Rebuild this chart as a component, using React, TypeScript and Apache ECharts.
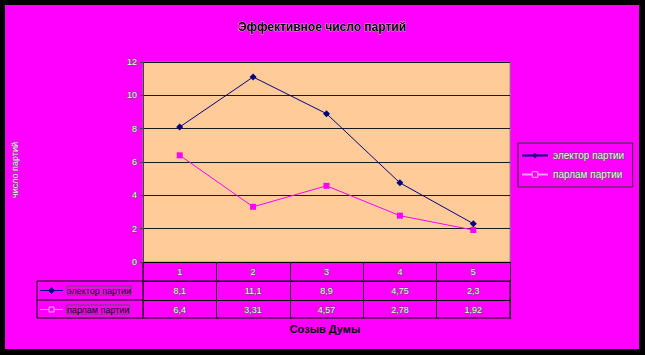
import React, { useEffect, useRef } from "react";
import * as echarts from "echarts";

const title = "Эффективное число партий";
const xTitle = "Созыв Думы";
const yTitle = "число партий";
const categories = ["1", "2", "3", "4", "5"];
const seriesNames = ["электор партии", "парлам партии"];
const electoral = [8.1, 11.1, 8.9, 4.75, 2.3];
const parliamentary = [6.4, 3.31, 4.57, 2.78, 1.92];
const yMin = 0;
const yMax = 12;
const yStep = 2;

const fmt = (v: number) => String(v).replace(".", ",");

const FONT = "Liberation Sans, Arial, sans-serif";
const light = {
  color: "#f4f4f4",
  textBorderColor: "#555",
  textBorderWidth: 1,
  fontSize: 9,
  fontFamily: FONT,
};

export default function App() {
  const ref = useRef<HTMLDivElement>(null);
  useEffect(() => {
    document.body.style.margin = "0";
    const chart = echarts.init(ref.current!, null, { renderer: "svg" });
    const gridLeft = 138;
    const gridTop = 57;
    const gridW = 367;
    const gridH = 200;
    const rowH = 19;
    const tableBottom = gridTop + gridH + rowH * 3 - 1;
    const tableAxis = (data: string[], offset: number, showLine: boolean) => ({
      type: "category",
      data,
      position: "bottom",
      offset,
      boundaryGap: true,
      axisLine: { show: showLine, lineStyle: { color: "#000", width: 1 } },
      axisTick: {
        show: true,
        length: rowH,
        interval: 0,
        lineStyle: { color: "#222", width: 1 },
      },
      axisLabel: { ...light, interval: 0, margin: 5 },
      splitLine: { show: false },
    });
    chart.setOption({
      animation: false,
      backgroundColor: "transparent",
      title: {
        text: title,
        left: "center",
        top: 11,
        textStyle: {
          fontSize: 12,
          fontWeight: "bold",
          color: "#000",
          fontFamily: FONT,
          textBorderColor: "#fff",
          textBorderWidth: 0.6,
        },
      },
      grid: {
        left: gridLeft,
        top: gridTop,
        width: gridW,
        height: gridH,
        show: true,
        backgroundColor: "#FFCC99",
        borderColor: "#888",
        borderWidth: 1,
      },
      legend: {
        orient: "vertical",
        left: 513,
        top: 138,
        padding: [7, 8, 7, 3],
        itemGap: 8,
        itemWidth: 26,
        itemHeight: 7,
        borderColor: "#333",
        borderWidth: 1,
        backgroundColor: "#FF00FF",
        textStyle: { ...light, fontSize: 10 },
        data: [
          { name: seriesNames[0] },
          {
            name: seriesNames[1],
            lineStyle: { color: "#FF99FF" },
            itemStyle: { color: "#FF00FF", borderColor: "#FFB0FF", borderWidth: 1 },
          },
        ],
      },
      xAxis: [
        tableAxis(categories, 0, true),
        tableAxis(electoral.map(fmt), rowH, true),
        tableAxis(parliamentary.map(fmt), rowH * 2, true),
      ],
      yAxis: {
        type: "value",
        min: yMin,
        max: yMax,
        interval: yStep,
        axisLine: { show: true, lineStyle: { color: "#444", width: 1 } },
        axisTick: { show: true, length: 3, lineStyle: { color: "#444" } },
        axisLabel: { ...light, fontSize: 9, margin: 6 },
        splitLine: { show: true, lineStyle: { color: "#1a1a1a", width: 1 } },
      },
      series: [
        {
          name: seriesNames[0],
          type: "line",
          xAxisIndex: 0,
          data: electoral,
          symbol: "diamond",
          symbolSize: 7,
          color: "#000080",
          lineStyle: { color: "#000080", width: 1 },
          itemStyle: { color: "#000080" },
        },
        {
          name: seriesNames[1],
          type: "line",
          xAxisIndex: 0,
          data: parliamentary,
          symbol: "rect",
          symbolSize: 6,
          color: "#FF00FF",
          lineStyle: { color: "#FF00FF", width: 1 },
          itemStyle: { color: "#FF00FF" },
        },
      ],
      graphic: [
        {
          type: "rect",
          shape: { x: 32, y: gridTop + gridH + rowH, width: gridLeft + gridW - 32, height: rowH * 2 - 1 },
          style: { fill: "none", stroke: "#000", lineWidth: 1 },
        },
        {
          type: "line",
          shape: { x1: 32, y1: gridTop + gridH + rowH * 2, x2: gridLeft, y2: gridTop + gridH + rowH * 2 },
          style: { stroke: "#000", lineWidth: 1 },
        },
        {
          type: "line",
          shape: { x1: gridLeft, y1: gridTop + gridH, x2: gridLeft, y2: tableBottom },
          style: { stroke: "#000", lineWidth: 1 },
        },
        {
          type: "line",
          shape: { x1: 35, y1: 285.5, x2: 58, y2: 285.5 },
          style: { stroke: "#000080", lineWidth: 1 },
        },
        {
          type: "polygon",
          shape: { points: [[46.5, 282], [50, 285.5], [46.5, 289], [43, 285.5]] },
          style: { fill: "#000080" },
        },
        {
          type: "text",
          x: 62,
          y: 285.5,
          style: { text: seriesNames[0], ...light, textVerticalAlign: "middle", verticalAlign: "middle" },
        },
        {
          type: "line",
          shape: { x1: 35, y1: 304.5, x2: 58, y2: 304.5 },
          style: { stroke: "#FF99FF", lineWidth: 1 },
        },
        {
          type: "rect",
          shape: { x: 44, y: 302, width: 5, height: 5 },
          style: { fill: "#FF00FF", stroke: "#FFB0FF", lineWidth: 1 },
        },
        {
          type: "text",
          x: 62,
          y: 304.5,
          style: { text: seriesNames[1], ...light, textVerticalAlign: "middle", verticalAlign: "middle" },
        },
        {
          type: "text",
          x: 320,
          y: 324,
          style: {
            text: xTitle,
            fontSize: 11,
            fontWeight: "bold",
            fontFamily: FONT,
            fill: "#000",
            align: "center",
            verticalAlign: "middle",
            textAlign: "center",
            textVerticalAlign: "middle",
          },
        },
        {
          type: "text",
          x: 10,
          y: 165,
          rotation: Math.PI / 2,
          style: {
            text: yTitle,
            fontSize: 9,
            fontFamily: FONT,
            fill: "#f4f4f4",
            stroke: "#444",
            lineWidth: 0.5,
            align: "center",
            verticalAlign: "middle",
            textAlign: "center",
            textVerticalAlign: "middle",
          },
        },
      ],
    });
    return () => chart.dispose();
  }, []);
  return (
    <div style={{ width: 645, height: 355, background: "#000", position: "relative" }}>
      <div
        style={{
          position: "absolute",
          left: 5,
          top: 5,
          width: 634,
          height: 344,
          background: "#FF00FF",
        }}
      >
        <div ref={ref} style={{ width: 634, height: 344 }} />
      </div>
    </div>
  );
}
